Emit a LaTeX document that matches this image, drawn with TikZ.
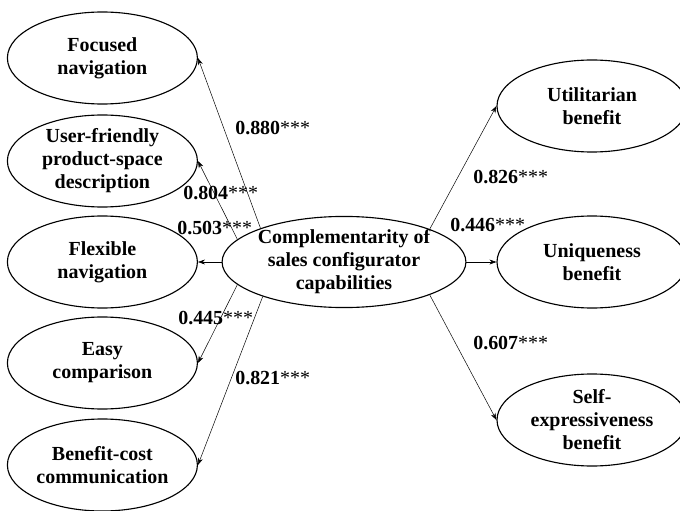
\documentclass[tikz,border=0pt]{standalone}
\usepackage{fontspec}
\setmainfont{Liberation Serif}
\usetikzlibrary{shapes.geometric,arrows.meta}

\begin{document}
\begin{tikzpicture}[
    font=\fontsize{14.2}{16.4}\selectfont\bfseries,
    construct/.style={draw, ellipse, line width=0.8pt, inner sep=0pt, align=center,
                      minimum width=4.75cm, minimum height=2.3cm},
    core/.style={draw, ellipse, line width=0.8pt, inner sep=0pt, align=center},
    coef/.style={anchor=west, inner sep=0pt},
    path/.style={-{Stealth[length=5pt, width=3.5pt]}, line width=0.35pt}
]
  \useasboundingbox (0,0) rectangle (17,12.75);

  % ===== capacidad central =====
  \node[core] (cap) at (8.6,6.2) {Complementarity of\\sales configurator\\capabilities};

  % ===== capacidades (izquierda) =====
  \node[construct] (foc) at (2.56,11.3)  {Focused\\navigation};
  \node[construct] (usr) at (2.56,8.725) {User-friendly\\product-space\\description};
  \node[construct] (flx) at (2.56,6.2)   {Flexible\\navigation};
  \node[construct] (esy) at (2.56,3.675) {Easy\\comparison};
  \node[construct] (bcc) at (2.56,1.125) {Benefit-cost\\communication};

  % ===== beneficios (derecha) =====
  \node[construct] (utl) at (14.8,10.1)  {Utilitarian\\benefit};
  \node[construct] (unq) at (14.8,6.2)   {Uniqueness\\benefit};
  \node[construct] (slf) at (14.8,2.25)  {Self-\\expressiveness\\benefit};

  % flechas desde el nodo central
  \foreach \a/\t in {158/foc,168.6/usr,180/flx,192.7/esy,203/bcc}
    \draw[path] (cap.\a) -- (\t.east);
  \foreach \a/\t in {21/utl,0/unq,-21/slf}
    \draw[path] (cap.\a) -- (\t.west);

  % coeficientes
  \node[coef] (c1) at (5.875,9.55)  {0.880{\mdseries***}};
  \node[coef] (c2) at (4.575,7.925) {0.804{\mdseries***}};
  \node[coef] (c3) at (4.425,7.05)  {0.503{\mdseries***}};
  \node[coef] (c4) at (4.45,4.8)    {0.445{\mdseries***}};
  \node[coef] (c5) at (5.875,3.3)   {0.821{\mdseries***}};
  \node[coef] (c6) at (11.825,8.325) {0.826{\mdseries***}};
  \node[coef] (c7) at (11.25,7.125)  {0.446{\mdseries***}};
  \node[coef] (c8) at (11.825,4.175) {0.607{\mdseries***}};
\end{tikzpicture}
\end{document}
